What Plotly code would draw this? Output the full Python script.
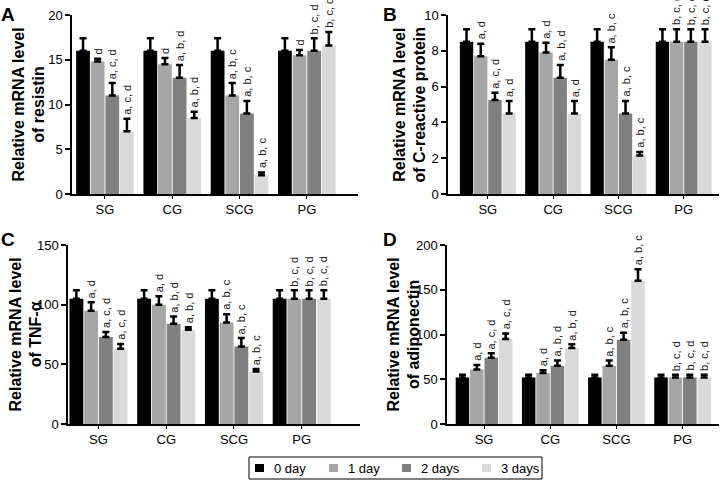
import plotly.graph_objects as go

groups = ["SG", "CG", "SCG", "PG"]
series = ["0 day", "1 day", "2 days", "3 days"]
colors = ["#000000", "#a6a6a6", "#808080", "#d9d9d9"]

# Panel A: resistin (values per series across groups)
resistin_vals = [[16, 16, 16, 16], [14.8, 14.5, 11, 15.5], [11, 13, 9, 16], [7, 8.5, 2.1, 16.6]]
resistin_err = [[1.4, 1.4, 1.4, 1.4], [0.3, 0.7, 1.4, 0.6], [1.4, 1.4, 1.4, 1.4], [1.4, 0.7, 0.3, 1.5]]
resistin_lbl = [["", "", "", ""], ["d", "d", "a, b, c", "d"],
                ["a, c, d", "a, b, d", "a, b, c", "b, c, d"], ["a, c, d", "a, b, d", "a, b, c", "b, c, d"]]

# Panel B: C-reactive protein
crp_vals = [[8.5, 8.5, 8.5, 8.5], [7.7, 7.9, 7.5, 8.5], [5.25, 6.5, 4.5, 8.5], [4.5, 4.5, 2.15, 8.5]]
crp_err = [[0.7, 0.7, 0.7, 0.7], [0.7, 0.55, 0.7, 0.7], [0.4, 0.7, 0.7, 0.7], [0.7, 0.7, 0.2, 0.7]]
crp_lbl = [["", "", "", ""], ["a, d", "a, d", "a, b, c", "b, c, d"],
           ["a, c, d", "a, b, d", "a, b, c", "b, c, d"], ["a, d", "a, d", "a, b, c", "b, c, d"]]

# Panel C: TNF-alpha
tnf_vals = [[105, 105, 105, 105], [95, 100, 85, 105], [73, 84, 65, 105], [63, 79, 44, 105]]
tnf_err = [[7, 7, 7, 7], [7, 7, 7, 7], [4, 6, 7, 7], [4, 2, 2, 7]]
tnf_lbl = [["", "", "", ""], ["a, d", "a, d", "a, b, c", "b, c, d"],
           ["a, c, d", "a, b, d", "a, b, c", "b, c, d"], ["a, c, d", "a, b, d", "a, b, c", "b, c, d"]]

# Panel D: adiponectin
adi_vals = [[52, 52, 52, 52], [61, 57, 65, 52], [74, 65, 94, 52], [95, 85, 160, 52]]
adi_err = [[3, 3, 3, 3], [5, 3, 6, 3], [5, 6, 8, 3], [6, 4, 13, 3]]
adi_lbl = [["", "", "", ""], ["a, d", "a, d", "a, b, c", "b, c, d"],
           ["a, c, d", "a, b, d", "a, b, c", "b, c, d"], ["a, c, d", "a, b, d", "a, b, c", "b, c, d"]]

W, H = 722, 480
FONT = "Arial, Liberation Sans, sans-serif"
BARGAP = 0.13
GROUPGAP = 0.06

panels = [
    dict(vals=resistin_vals, err=resistin_err, lbl=resistin_lbl, letter="A",
         title="Relative mRNA level<br>of resistin", yr=[0, 20], dt=5, tx=28,
         px=(72, 358), py=(15, 194), xr=[-0.49, 3.76]),
    dict(vals=crp_vals, err=crp_err, lbl=crp_lbl, letter="B",
         title="Relative mRNA level<br>of C-reactive protein", yr=[0, 10], dt=2, tx=409,
         px=(448, 719), py=(15, 194), xr=[-0.61, 3.54]),
    dict(vals=tnf_vals, err=tnf_err, lbl=tnf_lbl, letter="C",
         title="Relative mRNA level<br>of TNF-α", yr=[0, 150], dt=50, tx=26,
         px=(68, 360), py=(245, 424), xr=[-0.45, 3.86]),
    dict(vals=adi_vals, err=adi_err, lbl=adi_lbl, letter="D",
         title="Relative mRNA level<br>of adiponectin", yr=[0, 200], dt=50, tx=404,
         px=(447, 719), py=(245, 424), xr=[-0.56, 3.55]),
]

fig = go.Figure()
annotations = []
shapes = []
xpos = list(range(len(groups)))
slot = (1 - BARGAP) / len(series)

for p_i, p in enumerate(panels):
    n = "" if p_i == 0 else str(p_i + 1)
    xa, ya = "x" + n, "y" + n
    for s_i, s in enumerate(series):
        fig.add_trace(go.Bar(
            x=xpos, y=p["vals"][s_i], name=s, xaxis=xa, yaxis=ya,
            marker=dict(color=colors[s_i], line=dict(width=0)),
            error_y=dict(type="data", symmetric=False, array=p["err"][s_i],
                         arrayminus=[0] * len(groups), color="#000000",
                         thickness=2.5, width=3.5),
            showlegend=False, legendgroup=s,
        ))
        for g_i in range(len(groups)):
            t = p["lbl"][s_i][g_i]
            if not t:
                continue
            bx = g_i - (1 - BARGAP) / 2 + (s_i + 0.5) * slot
            annotations.append(dict(
                x=bx, y=p["vals"][s_i][g_i] + p["err"][s_i][g_i], xref=xa, yref=ya,
                text=t, textangle=-90, showarrow=False, xanchor="center", yanchor="bottom",
                yshift=2, font=dict(family=FONT, size=11, color="#1a1a1a")))
    x0, x1 = p["px"]
    y0, y1 = p["py"]
    xdom = [x0 / W, x1 / W]
    ydom = [1 - y1 / H, 1 - y0 / H]
    fig.layout["xaxis" + n] = dict(
        domain=xdom, range=p["xr"], tickvals=xpos, ticktext=groups, anchor=ya,
        showline=True, linecolor="#000000", linewidth=1.5, ticks="outside", ticklen=3,
        tickwidth=1, tickcolor="#000000", showgrid=False, automargin=False,
        zeroline=False, tickfont=dict(family=FONT, size=13, color="#000000"))
    fig.layout["yaxis" + n] = dict(
        domain=ydom, range=p["yr"], dtick=p["dt"], anchor=xa, automargin=False,
        showline=True, linecolor="#000000", linewidth=1.5, ticks="outside", ticklen=5,
        tickwidth=1.5, tickcolor="#000000", showgrid=False, zeroline=False,
        tickfont=dict(family=FONT, size=13, color="#000000"))
    # y-axis title, two lines, rotated
    annotations.append(dict(
        x=p["tx"] / W, y=(ydom[0] + ydom[1]) / 2, xref="paper", yref="paper",
        text="<b>" + p["title"] + "</b>", textangle=-90, showarrow=False,
        xanchor="center", yanchor="middle",
        font=dict(family=FONT, size=16, color="#000000")))
    lx = 0 if p_i % 2 == 0 else 382 / W
    ly = 1 - 3 / H if p_i < 2 else 1 - 228 / H
    annotations.append(dict(
        x=lx, y=ly, xref="paper", yref="paper", text="<b>" + p["letter"] + "</b>",
        showarrow=False, xanchor="left", yanchor="top", borderpad=0,
        font=dict(family=FONT, size=19, color="#000000")))

# Legend box (drawn as shapes + text so its compact spacing matches)
legend_box = (249, 457, 542, 479)
legend_x = [255, 329, 402, 482]
shapes.append(dict(type="rect", xref="paper", yref="paper",
                   x0=legend_box[0] / W, x1=legend_box[2] / W,
                   y0=1 - legend_box[3] / H, y1=1 - legend_box[1] / H,
                   line=dict(color="#000000", width=1), fillcolor="#ffffff"))
for s_i, s in enumerate(series):
    sx = legend_x[s_i]
    shapes.append(dict(type="rect", xref="paper", yref="paper",
                       x0=sx / W, x1=(sx + 9) / W, y0=1 - 472 / H, y1=1 - 464 / H,
                       line=dict(width=0), fillcolor=colors[s_i]))
    annotations.append(dict(x=(sx + 17) / W, y=1 - 468 / H, xref="paper", yref="paper",
                            text=s, showarrow=False, xanchor="left", yanchor="middle",
                            font=dict(family=FONT, size=13, color="#000000")))

fig.update_layout(
    width=W, height=H, margin=dict(l=0, r=0, t=0, b=0, autoexpand=False),
    paper_bgcolor="#ffffff", plot_bgcolor="#ffffff",
    barmode="group", bargap=BARGAP, bargroupgap=GROUPGAP,
    annotations=annotations, shapes=shapes, showlegend=False,
    font=dict(family=FONT, size=13, color="#000000"),
)

fig.write_html("out.html", config={"displayModeBar": False},
               post_script="document.body.style.margin='0';document.body.style.overflow='hidden';")
